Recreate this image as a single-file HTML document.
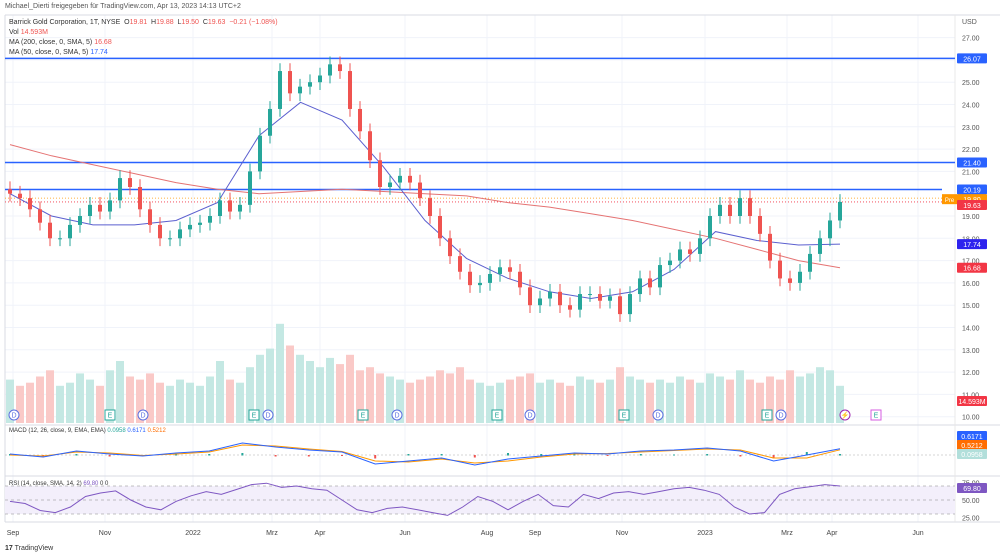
<!DOCTYPE html>
<html><head><meta charset="utf-8"><style>
body{margin:0;background:#fff;font-family:"Liberation Sans",sans-serif;}
svg{display:block}
text{font-family:"Liberation Sans",sans-serif}
</style></head><body>
<svg id="c" width="1000" height="560" viewBox="0 0 1000 560"></svg>
<script>
const closes=[20.0,19.8,19.3,18.7,18.0,18.0,18.6,19.0,19.5,19.2,19.7,20.7,20.3,19.3,18.6,18.0,18.0,18.4,18.6,18.7,19.0,19.7,19.2,19.5,21.0,22.6,23.8,25.5,24.5,24.8,25.0,25.3,25.8,25.5,23.8,22.8,21.5,20.3,20.5,20.8,20.5,19.8,19.0,18.0,17.2,16.5,15.9,16.0,16.4,16.7,16.5,15.8,15.0,15.3,15.6,15.0,14.8,15.5,15.5,15.2,15.4,14.6,15.5,16.2,15.8,16.8,17.0,17.5,17.3,18.0,19.0,19.5,19.0,19.8,19.0,18.2,17.0,16.2,16.0,16.5,17.3,18.0,18.8,19.63];
const volumes=[14,12,13,15,17,12,13,16,14,12,17,20,15,14,16,13,12,14,13,12,15,20,14,13,18,22,24,32,25,22,20,18,21,19,22,17,18,16,15,14,13,14,15,17,16,18,14,13,12,13,14,15,16,13,14,13,12,15,14,13,14,18,15,14,13,14,13,15,14,13,16,15,14,17,14,13,15,14,17,15,16,18,17,12];
const ma200=[22.2,21.7,21.3,20.9,20.5,20.2,20.0,20.1,20.2,20.1,20.0,19.9,19.6,19.4,19.1,18.8,18.4,18.0,17.5,17.0,16.68];
const ma50=[20.0,19.0,18.6,18.6,18.8,19.6,22.6,24.1,23.3,21.2,18.8,17.1,16.2,15.6,15.3,15.6,16.6,18.3,17.9,17.7,17.74];
const macd=[0.1,-0.2,0.4,0.1,-0.1,0.2,0.4,1.2,0.8,0.5,0.3,-0.9,-0.6,-0.3,-1.0,-0.4,-0.1,0.2,0.1,0.4,0.5,0.7,0.4,-0.6,0.0,0.62];
const signal=[0.0,-0.1,0.3,0.2,-0.05,0.1,0.3,1.0,0.9,0.6,0.35,-0.6,-0.7,-0.4,-0.8,-0.6,-0.2,0.1,0.15,0.3,0.45,0.6,0.5,-0.3,-0.3,0.52];
const rsi=[48,45,35,32,40,55,60,63,50,40,36,48,56,62,58,65,72,74,68,70,66,64,50,36,32,38,40,36,32,28,40,55,48,36,48,58,42,40,58,52,60,62,58,62,66,68,64,58,40,30,32,58,66,69,72,70];
const priceTicks=[27,26,25,24,23,22,21,19,18,17,16,15,14,13,12,11,10];
const timeLabels=["Sep","Nov","2022","Mrz","Apr","Jun","Aug","Sep","Nov","2023","Mrz","Apr","Jun"];
const timeIdx=[0.3,9.5,18.3,26.2,31,39.5,47.7,52.5,61.2,69.5,77.7,82.2,90.8];
const events=["D","E","D","E","D","E","D","E","D","E","D","E","D","⚡","E"];
const eventIdx=[0.4,10,13.3,24.4,25.8,35.3,38.7,48.7,52,61.4,64.8,75.7,77.1,83.5,86.6];
const hLines=[26.07,21.40,20.19];

const S=document.getElementById('c'),NS='http://www.w3.org/2000/svg';
function el(t,a,p){const e=document.createElementNS(NS,t);for(const k in a)e.setAttribute(k,a[k]);(p||S).appendChild(e);return e;}
const X=i=>10+i*10;
const Y=p=>37.6+(27-p)*22.3;
const VY=v=>423-v*3.1;
const MY=v=>455-v*10;
const RY=v=>500-(v-50)*0.7;
const PR=955;
timeIdx.forEach(i=>{const g=el('line',{x1:X(i),x2:X(i),y1:15,y2:522,stroke:'#f0f3fa'});});
priceTicks.forEach(p=>{const g=el('line',{x1:5,x2:PR,y1:Y(p),y2:Y(p),stroke:'#f0f3fa'});
const t=el('text',{x:962,y:Y(p)+3,'font-size':7,fill:'#555'});t.textContent=p.toFixed(2);});
[[15,'top'],[425,'main-bottom'],[476,'macd-bottom'],[522,'rsi-bottom']].forEach(([y,n])=>{const l=el('line',{x1:5,x2:1000,y1:y,y2:y,stroke:'#d8dbe3'});});
el('line',{x1:5,x2:5,y1:15,y2:522,stroke:'#d8dbe3'});
el('line',{x1:PR,x2:PR,y1:15,y2:522,stroke:'#e8e8e8'});
closes.forEach((c,i)=>{const o=i?closes[i-1]:c;const b=el('rect',{x:X(i)-4,y:VY(volumes[i]),width:8,height:423-VY(volumes[i]),fill:c>=o?'#c4e8e3':'#fac9c7'});});
hLines.forEach((p,k)=>{const l=el('line',{x1:5,x2:k==2?942:PR,y1:Y(p),y2:Y(p),stroke:'#2962ff','stroke-width':1.5});});
el('line',{x1:5,x2:PR,y1:Y(19.8),y2:Y(19.8),stroke:'#ff9800','stroke-dasharray':'1,2','stroke-width':.8});
el('line',{x1:5,x2:PR,y1:Y(19.63),y2:Y(19.63),stroke:'#f23645','stroke-dasharray':'1,2','stroke-width':.8});
function poly(arr,xf,yf,col,name,w){const d=arr.map((v,i)=>(i?'L':'M')+xf(i).toFixed(1)+','+yf(v).toFixed(1)).join('');const p=el('path',{d:d,fill:'none',stroke:col,'stroke-width':w||1});return p;}
const maX=i=>X(i*(closes.length-1)/(ma200.length-1));
poly(ma200,maX,Y,'#e57373','ma200-line');
poly(ma50,maX,Y,'#5b5fcf','ma50-line');
closes.forEach((c,i)=>{const o=i?closes[i-1]:c+0.2;const up=c>=o;const col=up?'#26a69a':'#ef5350';const hi=Math.max(o,c)+0.35,lo=Math.min(o,c)-0.35;
const w=el('line',{x1:X(i),x2:X(i),y1:Y(hi),y2:Y(lo),stroke:col});
const b=el('rect',{x:X(i)-2,y:Y(Math.max(o,c)),width:4,height:Math.max(1,Math.abs(Y(o)-Y(c))),fill:col});});
events.forEach((e,i)=>{const x=X(eventIdx[i]),y=415;const g=el('g',{});
const col=e=='D'?'#5b6fe0':(e=='E'?'#26a69a':'#9c27b0');
if(e=='D'||e=='⚡')el('circle',{cx:x,cy:y,r:5,fill:'#fff',stroke:col},g);else el('rect',{x:x-5,y:y-5,width:10,height:10,fill:'#fff',stroke:i==14?'#d65ee0':col},g);
const t=el('text',{x:x,y:y+2.5,'font-size':7,'text-anchor':'middle',fill:col},g);t.textContent=e;});
el('line',{x1:5,x2:PR,y1:455,y2:455,stroke:'#aaa','stroke-dasharray':'2,2','stroke-width':.6});
const mX=i=>X(i*(closes.length-1)/(macd.length-1));
macd.forEach((v,i)=>{const h=v-signal[i];const b=el('rect',{x:mX(i)-1,y:Math.min(455,MY(h)),width:2,height:Math.abs(h*10)+0.5,fill:h>=0?'#26a69a':'#ef5350'});});
poly(signal,mX,MY,'#ff9800','macd-signal-line');
poly(macd,mX,MY,'#2962ff','macd-line');
const band=el('rect',{x:5,y:RY(70),width:PR-5,height:RY(30)-RY(70),fill:'#f3effb'});
[70,50,30].forEach(v=>el('line',{x1:5,x2:PR,y1:RY(v),y2:RY(v),stroke:'#888','stroke-dasharray':'3,3','stroke-width':.6}));
const rX=i=>X(i*(closes.length-1)/(rsi.length-1));
poly(rsi,rX,RY,'#7e57c2','rsi-line');
[[75,'75.00'],[50,'50.00'],[25,'25.00']].forEach(([v,s])=>{const t=el('text',{x:962,y:RY(v)+3,'font-size':7,fill:'#555'});t.textContent=s;});
timeLabels.forEach((s,i)=>{const t=el('text',{x:X(timeIdx[i]),y:535,'font-size':7,'text-anchor':'middle',fill:'#444'});t.textContent=s;});
function tag(y,txt,bg,name,x){const g=el('g',{});el('rect',{x:x||957,y:y-5,width:30,height:10,fill:bg,rx:1},g);const t=el('text',{x:(x||957)+15,y:y+3,'font-size':7,'text-anchor':'middle',fill:'#fff'},g);t.textContent=txt;}
tag(Y(26.07),'26.07','#2962ff','label-26-07');tag(Y(21.40),'21.40','#2962ff','label-21-40');tag(Y(20.19),'20.19','#2962ff','label-20-19');
tag(Y(19.8)+1,'19.80','#ff9800','label-pre');tag(Y(19.63)+3,'19.63','#f23645','label-close');
tag(Y(17.74),'17.74','#2d22ee','label-ma50');tag(Y(16.68),'16.68','#f23645','label-ma200');
tag(401,'14.593M','#f23645','label-volume');
const pre=el('g',{});el('rect',{x:942,y:Y(19.8)-4,width:15,height:10,fill:'#ff9800'},pre);const pt=el('text',{x:949.5,y:Y(19.8)+4,'font-size':6,'text-anchor':'middle',fill:'#fff'},pre);pt.textContent='Pre';
tag(436,'0.6171','#2962ff','macd-label');tag(445,'0.5212','#ff6d00','signal-label');tag(454,'0.0958','#b2dfdb','hist-label');
tag(488,'69.80','#7e57c2','rsi-label');
const usd=el('text',{x:962,y:24,'font-size':7,fill:'#555'});usd.textContent='USD';
</script>
<div style="position:absolute;left:5px;top:3px;font-size:7px;color:#555">Michael_Dierti freigegeben für TradingView.com, Apr 13, 2023 14:13 UTC+2</div>
<div style="position:absolute;left:9px;top:18px;font-size:7px;line-height:10px;color:#333">
<div>Barrick Gold Corporation, 1T, NYSE &nbsp;O<span style="color:#ef5350">19.81</span> &nbsp;H<span style="color:#ef5350">19.88</span> &nbsp;L<span style="color:#ef5350">19.50</span> &nbsp;C<span style="color:#ef5350">19.63 &nbsp;−0.21 (−1.08%)</span></div>
<div>Vol <span style="color:#ef5350">14.593M</span></div>
<div>MA (200, close, 0, SMA, 5) <span style="color:#ef5350">16.68</span></div>
<div>MA (50, close, 0, SMA, 5) <span style="color:#2962ff">17.74</span></div></div>
<div style="position:absolute;left:9px;top:428px;font-size:6px;color:#333">MACD (12, 26, close, 9, EMA, EMA) <span style="color:#26a69a">0.0958</span> <span style="color:#2962ff">0.6171</span> <span style="color:#ff6d00">0.5212</span></div>
<div style="position:absolute;left:9px;top:481px;font-size:6px;color:#333">RSI (14, close, SMA, 14, 2) <span style="color:#7e57c2">69.80</span> 0 0</div>
<div style="position:absolute;left:5px;top:545px;font-size:7px;color:#333"><b>17</b> TradingView</div>
</body></html>
